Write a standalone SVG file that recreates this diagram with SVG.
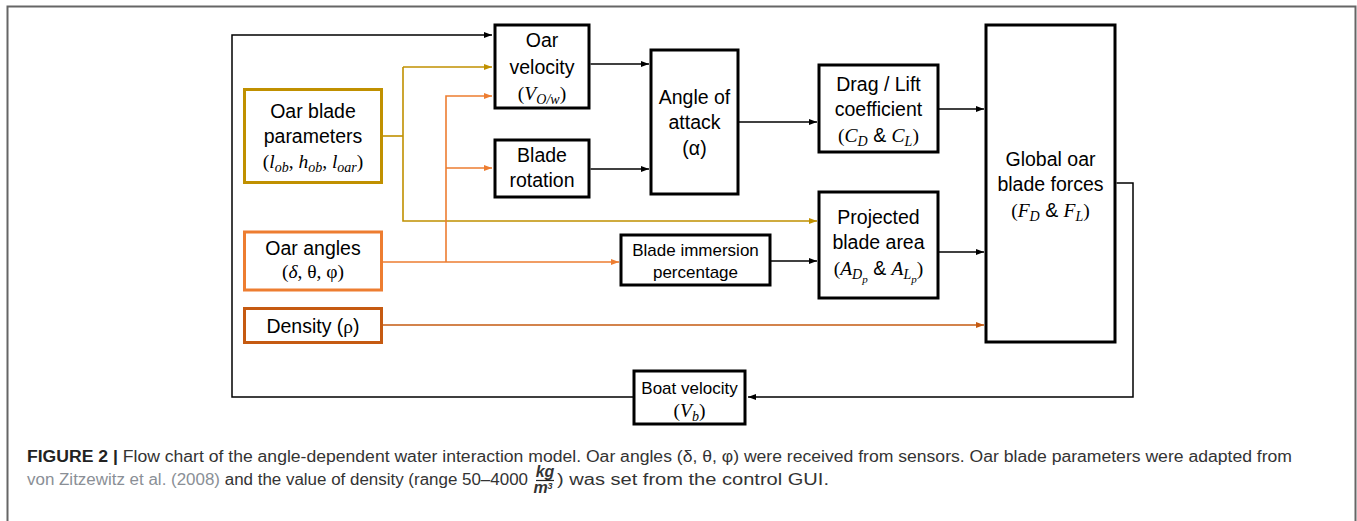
<svg xmlns="http://www.w3.org/2000/svg" width="1357" height="521" viewBox="0 0 1357 521">
<defs>
<style>
.box{fill:#fff;stroke:#000;stroke-width:3}
.t{font-family:"Liberation Sans",Arial,sans-serif;font-size:19.5px;fill:#000;text-anchor:middle}
.s{font-size:17px}
.m{font-family:"Liberation Serif","DejaVu Serif",serif;font-style:italic}
.u{font-family:"Liberation Serif","DejaVu Serif",serif;font-style:normal}
.sb{font-size:14px}
.ssb{font-size:11px}
.ln{fill:none;stroke:#000;stroke-width:1.5}
.gd{fill:none;stroke:#C09000;stroke-width:1.6}
.or{fill:none;stroke:#ED7D31;stroke-width:1.6}
.dor{fill:none;stroke:#C55A11;stroke-width:1.6}
.cap{font-family:"Liberation Sans",Arial,sans-serif;font-size:16px;fill:#333}
</style>
<marker id="ak" viewBox="0 0 8 6" refX="8" refY="3" markerWidth="8" markerHeight="6" orient="auto" markerUnits="userSpaceOnUse"><path d="M0,0 L8,3 L0,6 z" fill="#000"/></marker>
<marker id="ag" viewBox="0 0 8 6" refX="8" refY="3" markerWidth="8" markerHeight="6" orient="auto" markerUnits="userSpaceOnUse"><path d="M0,0 L8,3 L0,6 z" fill="#C09000"/></marker>
<marker id="ao" viewBox="0 0 8 6" refX="8" refY="3" markerWidth="8" markerHeight="6" orient="auto" markerUnits="userSpaceOnUse"><path d="M0,0 L8,3 L0,6 z" fill="#ED7D31"/></marker>
<marker id="ad" viewBox="0 0 8 6" refX="8" refY="3" markerWidth="8" markerHeight="6" orient="auto" markerUnits="userSpaceOnUse"><path d="M0,0 L8,3 L0,6 z" fill="#C55A11"/></marker>
</defs>
<rect width="1357" height="521" fill="#fff"/>
<path d="M7.5,521 V6.5 H1355.5 V521" fill="none" stroke="#666" stroke-width="2"/>

<g id="connectors">
<path class="ln" d="M1116.5,183 H1133 V397 H748" marker-end="url(#ak)"/>
<path class="ln" d="M633,397 H232 V35 H492" marker-end="url(#ak)"/>
<path class="ln" d="M590.5,64 H649" marker-end="url(#ak)"/>
<path class="ln" d="M590.5,169 H649" marker-end="url(#ak)"/>
<path class="ln" d="M738.5,122 H817" marker-end="url(#ak)"/>
<path class="ln" d="M938.5,109 H984" marker-end="url(#ak)"/>
<path class="ln" d="M938.5,252 H984" marker-end="url(#ak)"/>
<path class="ln" d="M770.5,261 H817" marker-end="url(#ak)"/>
<path class="gd" d="M383,136 H403"/>
<path class="gd" d="M403,67 H492" marker-end="url(#ag)"/>
<path class="gd" d="M403,67 V221 H817" marker-end="url(#ag)"/>
<path class="or" d="M382,262 H619" marker-end="url(#ao)"/>
<path class="or" d="M446,262 V96 H492" marker-end="url(#ao)"/>
<path class="or" d="M446,168 H492" marker-end="url(#ao)"/>
<path class="dor" d="M382,325 H984" marker-end="url(#ad)"/>
</g>

<g id="oar-velocity">
<rect class="box" x="495" y="25" width="94" height="83"/>
<text class="t" x="542" y="47">Oar</text>
<text class="t" x="542" y="74">velocity</text>
<text class="t" x="542" y="100"><tspan class="u">(</tspan><tspan class="m">V</tspan><tspan class="m sb" dy="4">O/w</tspan><tspan class="u" dy="-4">)</tspan></text>
</g>

<g id="blade-rotation">
<rect class="box" x="495" y="140" width="94" height="57"/>
<text class="t" x="542" y="162">Blade</text>
<text class="t" x="542" y="187">rotation</text>
</g>

<g id="oar-blade-parameters">
<rect x="244.5" y="89.5" width="137" height="93" fill="#fff" stroke="#C09000" stroke-width="3"/>
<text class="t" x="313" y="118">Oar blade</text>
<text class="t" x="313" y="143">parameters</text>
<text class="t" x="313" y="168"><tspan class="u">(</tspan><tspan class="m">l</tspan><tspan class="m sb" dy="4">ob</tspan><tspan class="u" dy="-4">, </tspan><tspan class="m">h</tspan><tspan class="m sb" dy="4">ob</tspan><tspan class="u" dy="-4">, </tspan><tspan class="m">l</tspan><tspan class="m sb" dy="4">oar</tspan><tspan class="u" dy="-4">)</tspan></text>
</g>

<g id="angle-of-attack">
<rect class="box" x="651" y="50" width="87" height="144"/>
<text class="t" x="694.5" y="104">Angle of</text>
<text class="t" x="694.5" y="129">attack</text>
<text class="t" x="694.5" y="155">(α)</text>
</g>

<g id="drag-lift">
<rect class="box" x="819" y="65" width="119" height="87"/>
<text class="t" x="878.5" y="91">Drag / Lift</text>
<text class="t" x="878.5" y="116">coefficient</text>
<text class="t" x="878.5" y="142"><tspan class="u">(</tspan><tspan class="m">C</tspan><tspan class="m sb" dy="4">D</tspan><tspan dy="-4"> &amp; </tspan><tspan class="m">C</tspan><tspan class="m sb" dy="4">L</tspan><tspan class="u" dy="-4">)</tspan></text>
</g>

<g id="global-forces">
<rect class="box" x="986" y="25" width="129" height="317"/>
<text class="t" x="1050.5" y="166">Global oar</text>
<text class="t" x="1050.5" y="191">blade forces</text>
<text class="t" x="1050.5" y="217"><tspan class="u">(</tspan><tspan class="m">F</tspan><tspan class="m sb" dy="4">D</tspan><tspan dy="-4"> &amp; </tspan><tspan class="m">F</tspan><tspan class="m sb" dy="4">L</tspan><tspan class="u" dy="-4">)</tspan></text>
</g>

<g id="projected-area">
<rect class="box" x="819" y="192" width="119" height="106"/>
<text class="t" x="878.5" y="224">Projected</text>
<text class="t" x="878.5" y="249">blade area</text>
<text class="t" x="878.5" y="275"><tspan class="u">(</tspan><tspan class="m">A</tspan><tspan class="m sb" dy="4">D</tspan><tspan class="m ssb" dy="4">p</tspan><tspan dy="-8"> &amp; </tspan><tspan class="m">A</tspan><tspan class="m sb" dy="4">L</tspan><tspan class="m ssb" dy="4">p</tspan><tspan class="u" dy="-8">)</tspan></text>
</g>

<g id="blade-immersion">
<rect class="box" x="621" y="235" width="149" height="50"/>
<text class="t s" x="695.5" y="256">Blade immersion</text>
<text class="t s" x="695.5" y="278">percentage</text>
</g>

<g id="oar-angles">
<rect x="244.5" y="232" width="137" height="58" fill="#fff" stroke="#ED7D31" stroke-width="3"/>
<text class="t" x="313" y="255">Oar angles</text>
<text class="t" x="313" y="278"><tspan class="u">(</tspan><tspan class="m">δ</tspan><tspan class="u">, θ, φ)</tspan></text>
</g>

<g id="density">
<rect x="244.5" y="308.5" width="137" height="34" fill="#fff" stroke="#C55A11" stroke-width="3"/>
<text class="t" x="313" y="333">Density (<tspan class="u">ρ</tspan>)</text>
</g>

<g id="boat-velocity">
<rect class="box" x="634" y="371" width="111" height="53"/>
<text class="t s" x="689.5" y="394">Boat velocity</text>
<text class="t" x="689.5" y="417"><tspan class="u">(</tspan><tspan class="m">V</tspan><tspan class="m sb" dy="4">b</tspan><tspan class="u" dy="-4">)</tspan></text>
</g>

<g id="caption">
<text class="cap" x="27" y="462" textLength="1265" lengthAdjust="spacingAndGlyphs"><tspan font-weight="bold" fill="#222">FIGURE 2 |</tspan> Flow chart of the angle-dependent water interaction model. Oar angles (δ, θ, φ) were received from sensors. Oar blade parameters were adapted from</text>
<text class="cap" x="27" y="485" textLength="501" lengthAdjust="spacingAndGlyphs"><tspan fill="#8a8f96">von Zitzewitz et al. (2008)</tspan> and the value of density (range 50–4000</text>
<text class="cap" x="545" y="477" text-anchor="middle" font-size="13" font-weight="bold" font-style="italic" fill="#222">kg</text>
<path d="M536,480.5 H554" stroke="#222" stroke-width="1.2"/>
<text class="cap" x="543" y="493" text-anchor="middle" font-size="13" font-weight="bold" font-style="italic" fill="#222">m<tspan font-size="9" dy="-4">3</tspan></text>
<text class="cap" x="557" y="485" font-size="17" textLength="272" lengthAdjust="spacingAndGlyphs">) was set from the control GUI.</text>
</g>
</svg>
